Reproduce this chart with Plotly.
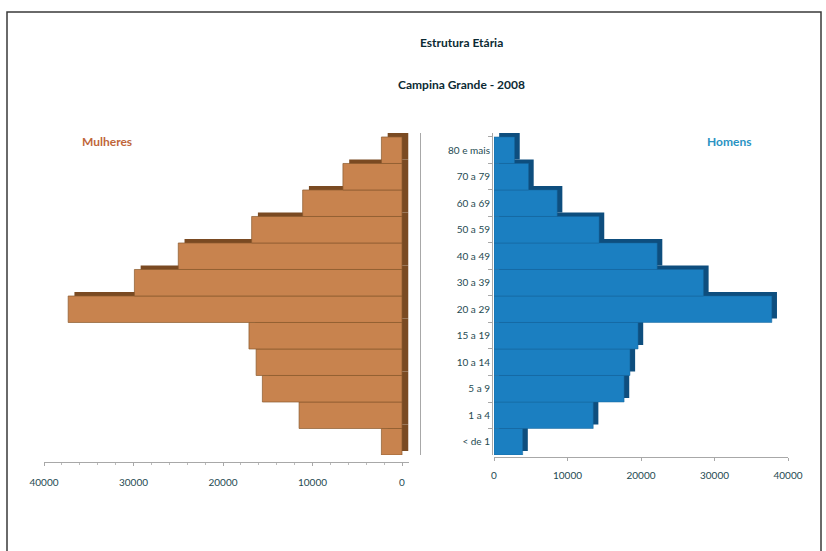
import plotly.graph_objects as go

W, H = 826, 551

categorias = ["< de 1", "1 a 4", "5 a 9", "10 a 14", "15 a 19", "20 a 29",
              "30 a 39", "40 a 49", "50 a 59", "60 a 69", "70 a 79", "80 e mais"]
mulheres = [2300, 11500, 15600, 16300, 17100, 37300, 29900, 25000, 16800, 11100, 6600, 2300]
homens = [3900, 13500, 17700, 18500, 19600, 37800, 28500, 22200, 14300, 8600, 4700, 2800]
tick_vals = [0, 10000, 20000, 30000, 40000]
tick_text = ["0", "10000", "20000", "30000", "40000"]

titulo = "Estrutura Etária"
subtitulo = "Campina Grande - 2008"

depth = 700
FONT = "Lato, 'Open Sans', sans-serif"
TXT = "#1E4A52"

def px(x):
    return x / W

def py(y):
    return 1 - y / H

fig = go.Figure()

# 3D depth (shadow) traces
fig.add_trace(go.Bar(y=categorias, x=mulheres, base=[-depth] * len(mulheres), orientation="h",
                     xaxis="x", yaxis="y", width=1, offset=-0.35,
                     marker=dict(color="#7A4A22", line=dict(width=0)), hoverinfo="skip"))
fig.add_trace(go.Bar(y=categorias, x=homens, base=[depth] * len(homens), orientation="h",
                     xaxis="x2", yaxis="y2", width=1, offset=-0.35,
                     marker=dict(color="#0E4E7E", line=dict(width=0)), hoverinfo="skip"))
# front faces
fig.add_trace(go.Bar(y=categorias, x=mulheres, orientation="h", name="Mulheres",
                     xaxis="x", yaxis="y", width=1, offset=-0.5,
                     marker=dict(color="#C8834E", line=dict(color="#8A5A2E", width=0.7))))
fig.add_trace(go.Bar(y=categorias, x=homens, orientation="h", name="Homens",
                     xaxis="x2", yaxis="y2", width=1, offset=-0.5,
                     marker=dict(color="#1B7FC1", line=dict(color="#16659A", width=0.5))))

ydom = [py(455), py(133)]
yrange = [-0.5, 11.65]

x0_left, x40_left = 402, 44
ppu = (x0_left - x40_left) / 40000
left_dom = [px(x40_left), px(x0_left + 800 * ppu)]

fig.update_layout(
    width=W, height=H,
    margin=dict(l=0, r=0, t=0, b=0, pad=0, autoexpand=False),
    paper_bgcolor="white", plot_bgcolor="white",
    showlegend=False, barmode="overlay",
    font=dict(family=FONT, color=TXT, size=10),
    xaxis=dict(domain=left_dom, range=[40000, -800], anchor="free", position=py(462),
               automargin=False,
               tickvals=tick_vals, ticktext=tick_text, showgrid=False, zeroline=False,
               showline=True, linecolor="#A8A8A8", linewidth=1,
               ticks="outside", ticklen=3, tickcolor="#A8A8A8", ticklabelstandoff=8,
               minor=dict(ticks="outside", ticklen=2, dtick=2000, tickcolor="#BBBBBB"),
               tickfont=dict(size=10, color=TXT), fixedrange=True),
    yaxis=dict(domain=ydom, range=yrange, type="category", categoryorder="array",
               categoryarray=categorias, anchor="free", position=px(420), automargin=False,
               showticklabels=False, showgrid=False, zeroline=False,
               showline=True, linecolor="#A8A8A8", linewidth=1, ticks=""),
    xaxis2=dict(domain=[px(494), px(788)], range=[0, 40000], anchor="free", position=py(457),
                automargin=False,
                tickvals=tick_vals, ticktext=tick_text, showgrid=False, zeroline=False,
                showline=True, linecolor="#A8A8A8", linewidth=1,
                ticks="outside", ticklen=3, tickcolor="#A8A8A8", ticklabelstandoff=6,
                tickfont=dict(size=10, color=TXT), fixedrange=True),
    yaxis2=dict(domain=ydom, range=yrange, type="category", categoryorder="array",
                categoryarray=categorias, anchor="free", position=px(492), side="left",
                automargin=False,
                showgrid=False, zeroline=False, showline=True, linecolor="#A8A8A8", linewidth=1,
                ticks="outside", ticklen=4, tickcolor="#A8A8A8", tickson="boundaries",
                tickfont=dict(size=10, color=TXT)),
    shapes=[dict(type="rect", xref="paper", yref="paper",
                 x0=px(7), x1=px(821), y0=-0.05, y1=py(12),
                 line=dict(color="#3A3A3A", width=1.5), fillcolor="rgba(0,0,0,0)")],
    annotations=[
        dict(text="<b>" + titulo + "</b>", x=px(462), y=py(43), xref="paper", yref="paper",
             xanchor="center", yanchor="middle", showarrow=False,
             font=dict(size=12, color="#0B2A33", family=FONT)),
        dict(text="<b>" + subtitulo + "</b>", x=px(462), y=py(84), xref="paper", yref="paper",
             xanchor="center", yanchor="middle", showarrow=False,
             font=dict(size=12, color="#0B2A33", family=FONT)),
        dict(text="<b>Mulheres</b>", x=px(107), y=py(141), xref="paper", yref="paper",
             xanchor="center", yanchor="middle", showarrow=False,
             font=dict(size=12, color="#C0663A", family=FONT)),
        dict(text="<b>Homens</b>", x=px(729), y=py(141), xref="paper", yref="paper",
             xanchor="center", yanchor="middle", showarrow=False,
             font=dict(size=12, color="#2A93C3", family=FONT)),
    ],
)

fig.write_html("out.html")
